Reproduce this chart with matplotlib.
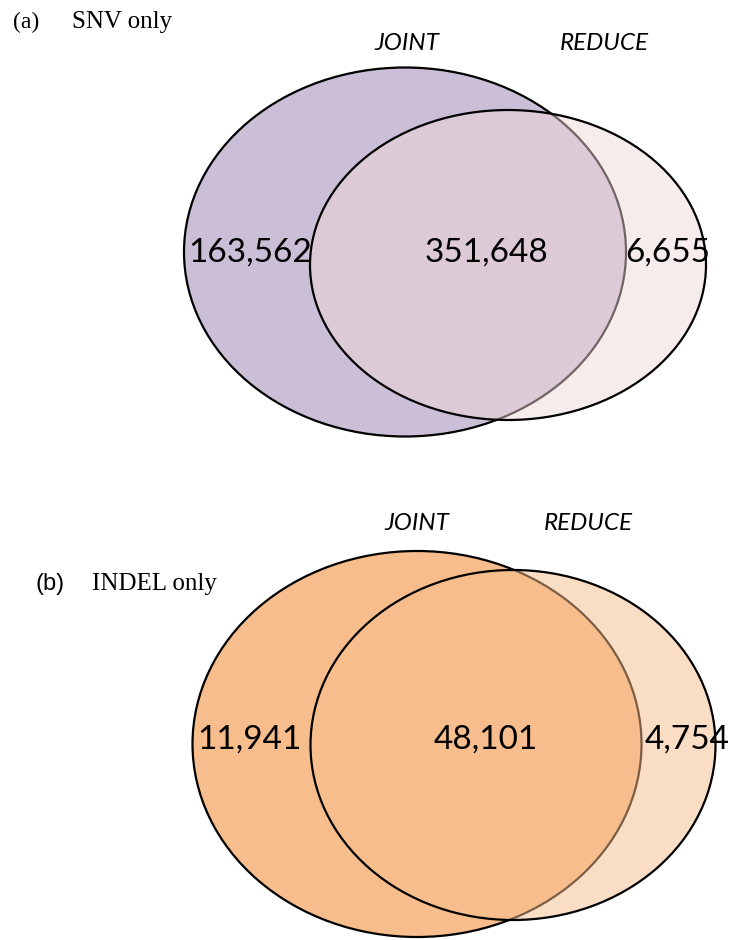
import matplotlib.pyplot as plt
from matplotlib.patches import Ellipse

# Venn counts: JOINT only, shared, REDUCE only
set_names = ["JOINT", "REDUCE"]
snv_counts = [163562, 351648, 6655]
indel_counts = [11941, 48101, 4754]
panel_tags = ["(a)", "(b)"]
panel_titles = ["SNV only", "INDEL only"]

fig = plt.figure(figsize=(7.29, 9.40), dpi=100)
ax = fig.add_axes([0, 0, 1, 1])
ax.set_xlim(0, 729)
ax.set_ylim(940, 0)
ax.set_aspect("equal")
ax.axis("off")

# ellipse geometry in pixels: (cx, cy, w, h)
panels = [
    dict(counts=snv_counts, joint=(405, 252, 442, 369), reduce=(508, 265, 396, 310),
         c1="#cbbfd8", c2="#f0d7d7", a2=0.47,
         num_x=[250, 486, 668], num_y=253, lab_x=[407, 604], lab_y=43,
         tag_xy=(13, 22), title_x=72, tag_serif=True),
    dict(counts=indel_counts, joint=(417, 744, 449, 386), reduce=(513, 745, 405, 350),
         c1="#f7bd8c", c2="#f7bd8c", a2=0.5,
         num_x=[250, 486, 687], num_y=740, lab_x=[417, 588], lab_y=523,
         tag_xy=(36, 584), title_x=92, tag_serif=False),
]

for i, p in enumerate(panels):
    cx, cy, w, h = p["joint"]
    ax.add_patch(Ellipse((cx, cy), w, h, facecolor=p["c1"], edgecolor="black", lw=1.6))
    cx, cy, w, h = p["reduce"]
    ax.add_patch(Ellipse((cx, cy), w, h, facecolor=p["c2"], alpha=p["a2"], edgecolor="none"))
    ax.add_patch(Ellipse((cx, cy), w, h, facecolor="none", edgecolor="black", lw=1.6))

    for x, n in zip(p["num_x"], p["counts"]):
        ax.text(x, p["num_y"], f"{n:,}", ha="center", va="center",
                fontsize=24, family="Lato", color="black")
    for x, name in zip(p["lab_x"], set_names):
        ax.text(x, p["lab_y"], name, ha="center", va="center",
                fontsize=17.5, family="Lato", style="italic")

    tx, ty = p["tag_xy"]
    ax.text(tx, ty, panel_tags[i], ha="left", va="center", fontsize=17,
            family="Liberation Serif" if p["tag_serif"] else "Liberation Sans")
    ax.text(p["title_x"], ty, panel_titles[i], ha="left", va="center",
            fontsize=18, family="Liberation Serif")

fig.savefig("out.png", dpi=100)
